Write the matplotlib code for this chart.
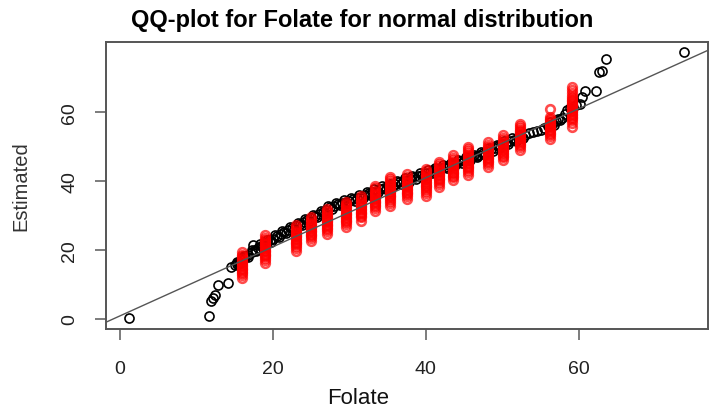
import matplotlib
matplotlib.use("Agg")
import matplotlib.pyplot as plt

plt.rcParams['font.family'] = ['Liberation Sans', 'DejaVu Sans']

# --- data ---
# black: sorted Folate vs estimated quantile
black_x = [1.2, 11.6, 11.9, 12.2, 12.4, 12.8, 14.1, 14.5, 15.0,
           15.3, 15.6, 16.0, 16.4, 16.8, 17.2, 17.4, 17.6, 18.0, 18.4, 18.8,
           19.2, 19.6, 20.0, 20.5, 21.0, 21.5, 22.0, 22.5, 23.0, 23.5,
           24.0, 24.5, 25.0, 25.5, 26.0, 26.5, 27.0, 27.5, 28.0, 28.5,
           29.0, 29.5, 30.0, 30.5, 31.0, 31.5, 32.0, 32.5, 33.0, 33.5,
           34.0, 34.5, 35.0, 35.5, 36.0, 36.5, 37.0, 37.5, 38.0, 38.5,
           39.0, 39.5, 40.0, 40.5, 41.0, 41.5, 42.0, 42.5, 43.0, 43.5,
           44.0, 44.5, 45.0, 45.5, 46.0, 46.5, 47.0, 47.5, 48.0, 48.5,
           49.0, 49.5, 50.0, 50.5, 51.0, 51.5, 52.0, 52.5, 53.0, 53.5,
           54.0, 54.5, 55.0, 55.5, 56.0, 56.5, 57.0, 57.5, 57.8, 58.2,
           58.4, 58.8, 59.2, 59.7, 60.2, 60.4, 60.8, 62.2, 62.7, 63.0,
           63.5, 73.8]
black_y = [0.3, 1.0, 5.3, 6.0, 6.8, 9.7, 10.4, 15.0, 15.6,
           16.0, 16.6, 17.2, 17.9, 18.6, 19.3, 21.5, 20.0, 20.6, 21.2, 21.8,
           22.3, 22.8, 23.3, 23.9, 24.5, 25.1, 25.7, 26.3, 26.9, 27.4,
           28.0, 28.6, 29.3, 29.9, 30.5, 31.1, 31.7, 32.3, 32.8, 33.3,
           33.7, 34.0, 34.3, 34.6, 35.0, 35.4, 35.9, 36.4, 36.9, 37.2,
           37.6, 38.0, 38.4, 38.8, 39.2, 39.6, 39.9, 40.3, 40.6, 41.0,
           41.4, 41.8, 42.2, 42.6, 43.0, 43.3, 43.7, 44.1, 44.5, 44.9,
           45.3, 45.7, 46.0, 46.4, 46.8, 47.2, 47.6, 48.1, 48.6, 49.1,
           49.6, 50.1, 50.6, 51.1, 51.5, 51.9, 52.4, 52.8, 53.3, 53.8,
           54.1, 54.4, 54.8, 55.4, 56.0, 56.6, 57.2, 57.6, 58.3, 59.3,
           60.4, 61.0, 61.4, 62.0, 62.3, 64.2, 65.9, 65.9, 71.5, 71.8,
           75.2, 77.3]

# black points in between (the band is a few circles thick)
black_x_b = [15.25, 15.75, 16.25, 16.75, 17.25, 17.75, 18.25, 18.75, 19.25, 19.75,
             20.25, 20.75, 21.25, 21.75, 22.25, 22.75, 23.25, 23.75, 24.25, 24.75,
             25.25, 25.75, 26.25, 26.75, 27.25, 27.75, 28.25, 28.75, 29.25, 29.75,
             30.25, 30.75, 31.25, 31.75, 32.25, 32.75, 33.25, 33.75, 34.25, 34.75,
             35.25, 35.75, 36.25, 36.75, 37.25, 37.75, 38.25, 38.75, 39.25, 39.75,
             40.25, 40.75, 41.25, 41.75, 42.25, 42.75, 43.25, 43.75, 44.25, 44.75,
             45.25, 45.75, 46.25, 46.75, 47.25, 47.75, 48.25, 48.75, 49.25, 49.75,
             50.25, 50.75, 51.25, 51.75, 52.25, 52.75, 56.25, 56.75, 57.25]
black_y_b = [16.5, 16.2, 18.2, 17.9, 20.0, 19.6, 21.6, 21.1, 23.0, 22.3,
             24.2, 23.6, 25.4, 24.8, 26.6, 26.0, 27.7, 27.1, 28.9, 28.3,
             30.2, 29.6, 31.4, 30.8, 32.6, 31.9, 33.6, 32.9, 34.4, 33.5,
             35.0, 34.2, 35.8, 35.0, 36.7, 36.0, 37.6, 36.8, 38.4, 37.6,
             39.2, 38.4, 40.0, 39.1, 40.7, 39.8, 41.4, 40.6, 42.2, 41.4,
             43.0, 42.2, 43.7, 42.9, 44.5, 43.7, 45.3, 44.5, 46.1, 45.2,
             46.8, 46.0, 47.6, 46.8, 48.4, 47.7, 49.4, 48.7, 50.4, 49.7,
             51.4, 50.7, 52.3, 51.5, 53.2, 52.4, 56.9, 56.3, 58.0]

# red: estimated values stacked at each observed Folate level
red_x = [16.0, 19.0, 23.0, 25.0, 27.1, 29.5, 31.5, 33.4, 35.3, 37.5,
         40.0, 41.7, 43.6, 45.5, 48.1, 50.1, 52.3, 56.3, 59.1]
red_y = [
    [11.8, 12.6, 13.2, 13.7, 14.1, 14.5, 14.9, 15.3, 15.7, 16.1, 16.5, 16.9, 17.3, 17.7, 18.1, 18.6, 19.4],
    [16.2, 17.0, 17.6, 18.1, 18.5, 18.9, 19.3, 19.7, 20.1, 20.5, 20.9, 21.3, 21.7, 22.1, 22.5, 22.9, 23.4, 24.4],
    [19.6, 20.5, 21.1, 21.6, 22.0, 22.4, 22.8, 23.2, 23.6, 24.0, 24.4, 24.8, 25.2, 25.6, 26.1, 26.6, 27.3],
    [22.6, 23.4, 23.9, 24.3, 24.7, 25.1, 25.5, 25.9, 26.3, 26.7, 27.1, 27.5, 27.9, 28.4, 29.0, 29.6],
    [24.6, 25.5, 26.0, 26.4, 26.8, 27.2, 27.6, 28.0, 28.4, 28.8, 29.2, 29.6, 30.0, 30.4, 30.9, 31.4, 31.9],
    [26.6, 27.5, 28.0, 28.4, 28.8, 29.2, 29.6, 30.0, 30.4, 30.8, 31.2, 31.6, 32.0, 32.4, 32.9, 33.4, 34.0],
    [28.5, 29.4, 29.9, 30.3, 30.7, 31.1, 31.5, 31.9, 32.3, 32.7, 33.1, 33.5, 33.9, 34.4, 35.0, 35.7],
    [31.4, 32.2, 32.7, 33.1, 33.5, 33.9, 34.3, 34.7, 35.1, 35.5, 35.9, 36.3, 36.7, 37.2, 37.8, 38.6],
    [32.8, 33.7, 34.3, 34.8, 35.2, 35.6, 36.0, 36.4, 36.8, 37.2, 37.6, 38.0, 38.4, 38.8, 39.3, 39.9, 40.5, 41.0],
    [34.8, 35.6, 36.1, 36.5, 36.9, 37.3, 37.7, 38.1, 38.5, 38.9, 39.3, 39.7, 40.1, 40.6, 41.2, 42.0],
    [35.7, 36.6, 37.2, 37.7, 38.1, 38.5, 38.9, 39.3, 39.7, 40.1, 40.5, 40.9, 41.3, 41.7, 42.2, 42.8, 43.5],
    [38.3, 39.2, 39.7, 40.1, 40.5, 40.9, 41.3, 41.7, 42.1, 42.5, 42.9, 43.3, 43.7, 44.2, 44.8, 45.5],
    [40.1, 41.0, 41.5, 41.9, 42.3, 42.7, 43.1, 43.5, 43.9, 44.3, 44.7, 45.1, 45.5, 46.0, 46.5, 47.6],
    [41.6, 42.5, 43.1, 43.6, 44.0, 44.4, 44.8, 45.2, 45.6, 46.0, 46.4, 46.8, 47.2, 47.6, 48.1, 48.7, 49.3, 49.9],
    [44.0, 44.9, 45.4, 45.8, 46.2, 46.6, 47.0, 47.4, 47.8, 48.2, 48.6, 49.0, 49.4, 49.9, 50.5, 51.3],
    [45.9, 46.8, 47.3, 47.7, 48.1, 48.5, 48.9, 49.3, 49.7, 50.1, 50.5, 50.9, 51.3, 51.8, 52.4, 53.3],
    [48.8, 49.7, 50.3, 50.8, 51.2, 51.6, 52.0, 52.4, 52.8, 53.2, 53.6, 54.0, 54.4, 54.8, 55.3, 55.8, 56.5],
    [52.2, 53.0, 53.5, 53.9, 54.3, 54.7, 55.1, 55.5, 55.9, 56.3, 56.7, 57.1, 57.5, 58.0, 58.6, 60.7],
    [55.7, 56.8, 57.5, 58.1, 58.6, 59.0, 59.4, 59.8, 60.2, 60.6, 61.0, 61.4, 61.8, 62.2, 62.6, 63.0,
     63.5, 64.0, 64.6, 65.3, 66.2, 67.2],
]

line_intercept = 0.9
line_slope = 1.0
ticks = [0, 20, 40, 60]

fig = plt.figure(figsize=(7.14, 4.10), dpi=100)
ax = fig.add_axes([106 / 714, 80 / 410, 602 / 714, 287 / 410])

ax.plot(black_x, black_y, 'o', mfc='none', mec='black', ms=6.5, mew=1.2)
ax.plot(black_x_b, black_y_b, 'o', mfc='none', mec='black', ms=6.5, mew=1.2)

for x, ys in zip(red_x, red_y):
    ax.plot([x] * len(ys), ys, 'o', mfc='none', mec='red', ms=6.2, mew=1.9, alpha=0.7)

ax.axline((0, line_intercept), slope=line_slope, color='#555555', lw=1.0)

ax.set_xlim(-1.83, 76.9)
ax.set_ylim(-2.9, 80.2)
ax.set_xticks(ticks)
ax.set_yticks(ticks)
for s in ax.spines.values():
    s.set_color('#555555')
    s.set_linewidth(1.4)
ax.tick_params(direction='out', length=8, width=1.2, color='#666666',
               labelsize=14, labelcolor='#222222')
ax.tick_params(axis='x', pad=14)
ax.tick_params(axis='y', pad=12)
for lab in ax.get_yticklabels():
    lab.set_rotation(90)
    lab.set_va('center')

ax.set_xlabel("Folate", fontsize=16, color='#111111')
ax.xaxis.set_label_coords(0.418, -0.24)
ax.xaxis.label.set_va('center')
ax.set_ylabel("Estimated", fontsize=14.5, color='#333333')
ax.yaxis.set_label_coords(-0.141, 0.5)
ax.yaxis.label.set_va('center')

ax.text(0.425, 1.08, "QQ-plot for Folate for normal distribution", transform=ax.transAxes,
        ha='center', va='center', fontsize=17, fontweight='bold')

fig.savefig("out.png", dpi=100)
